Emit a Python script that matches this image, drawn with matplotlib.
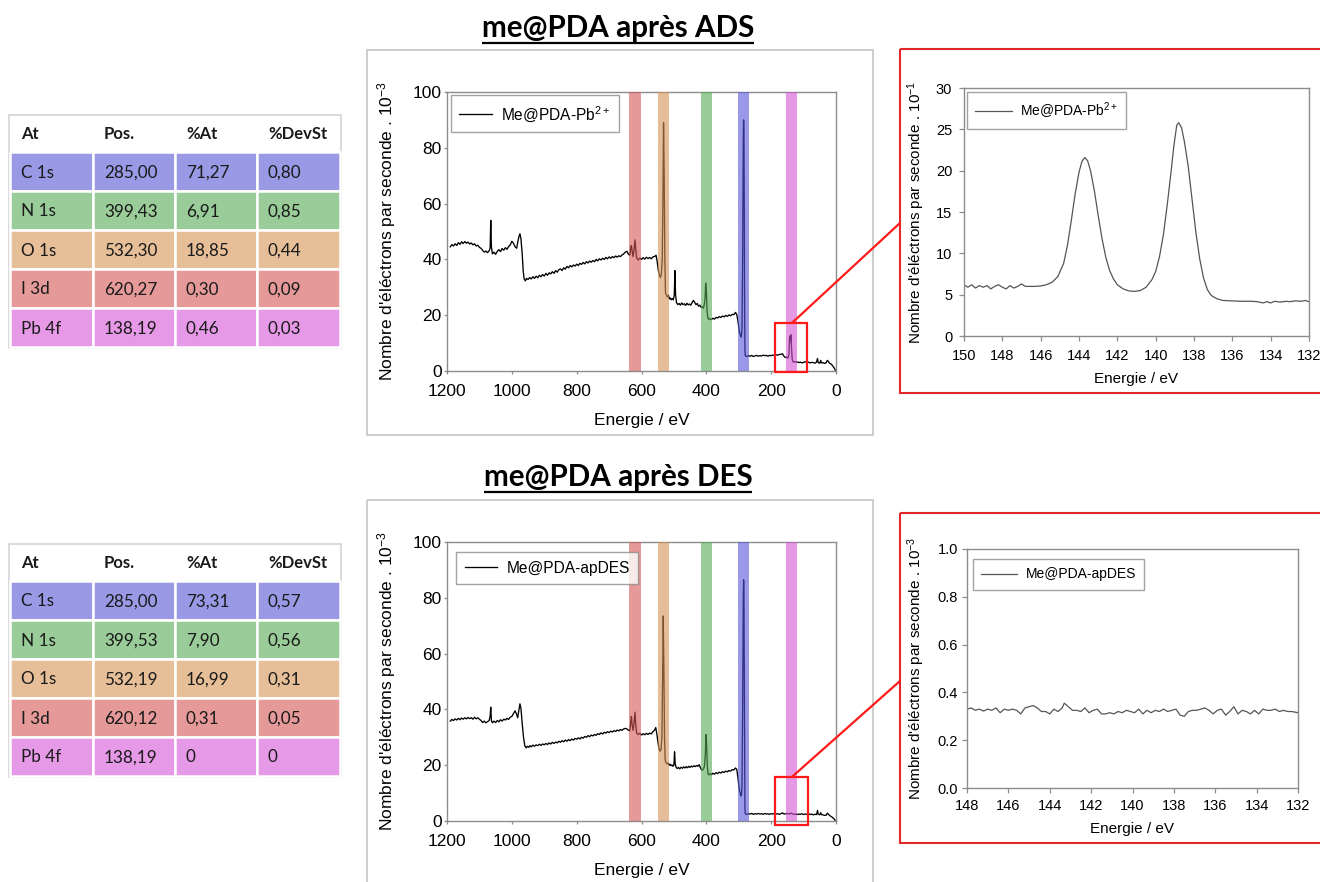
import matplotlib
matplotlib.use("Agg")
import matplotlib.pyplot as plt
from matplotlib.patches import Rectangle, ConnectionPatch
from matplotlib.ticker import FormatStrFormatter, MultipleLocator

plt.rcParams['font.family'] = ['Liberation Sans', 'DejaVu Sans']
plt.rcParams['mathtext.fontset'] = 'custom'
plt.rcParams['mathtext.rm'] = 'Liberation Sans'
plt.rcParams['mathtext.it'] = 'Liberation Sans:italic'
plt.rcParams['mathtext.bf'] = 'Liberation Sans:bold'

W, H = 1320, 882

# ---- tables ----
headers = ["At", "Pos.", "%At", "%DevSt"]
atoms = ["C 1s", "N 1s", "O 1s", "I 3d", "Pb 4f"]
ads_pos = ["285,00", "399,43", "532,30", "620,27", "138,19"]
ads_at = ["71,27", "6,91", "18,85", "0,30", "0,46"]
ads_dev = ["0,80", "0,85", "0,44", "0,09", "0,03"]
des_pos = ["285,00", "399,53", "532,19", "620,12", "138,19"]
des_at = ["73,31", "7,90", "16,99", "0,31", "0"]
des_dev = ["0,57", "0,56", "0,31", "0,05", "0"]
row_colors = ["#9999e6", "#99cc99", "#e6bf99", "#e69999", "#e699e6"]
band_colors = ["#5555da", "#55aa55", "#d59455", "#d55555", "#d555d5"]

# ---- survey spectra (eV, counts/s x 10^-3) ----
ads_energy = [1190, 1185, 1180, 1175, 1170, 1165, 1160, 1155, 1150, 1145, 1140, 1135, 1130, 1125, 1120, 1115,
              1110, 1105, 1100, 1095, 1090, 1085, 1080, 1075, 1070, 1067, 1065, 1063, 1060, 1055, 1050, 1045,
              1040, 1035, 1030, 1025, 1020, 1015, 1010, 1005, 1000, 995, 990, 985, 982, 978, 975, 972, 968,
              965, 962, 958, 955, 950, 945, 940, 935, 930, 925, 920, 915, 910, 905, 900, 895, 890, 885, 880,
              875, 870, 865, 860, 855, 850, 845, 840, 835, 830, 825, 820, 815, 810, 805, 800, 795, 790, 785,
              780, 775, 770, 765, 760, 755, 750, 745, 740, 735, 730, 725, 720, 715, 710, 705, 700, 695, 690,
              685, 680, 675, 670, 665, 660, 655, 650, 645, 640, 636, 633, 631, 629, 626, 623, 620, 618, 615,
              610, 605, 600, 595, 590, 585, 580, 575, 570, 565, 560, 555, 552, 548, 545, 542, 539, 536, 534,
              532, 530, 528, 526, 524, 520, 517, 514, 511, 508, 505, 502, 499, 497, 495, 492, 488, 484, 480,
              476, 472, 468, 464, 460, 456, 452, 448, 444, 440, 436, 432, 428, 424, 420, 416, 412, 409, 406,
              404, 402, 400, 398, 396, 393, 390, 385, 380, 375, 370, 365, 360, 355, 350, 345, 340, 335, 330,
              325, 320, 315, 310, 306, 302, 298, 294, 292, 290, 288, 286, 285, 284, 283, 282, 281, 280, 275,
              270, 265, 260, 255, 250, 245, 240, 235, 230, 225, 220, 215, 210, 205, 200, 195, 190, 185, 180,
              175, 170, 165, 162, 158, 155, 152, 148, 145, 143, 141, 139, 137, 135, 132, 128, 124, 120, 115,
              110, 105, 100, 95, 90, 85, 80, 75, 70, 65, 60, 57, 55, 50, 47, 45, 40, 35, 30, 27, 24, 20, 15,
              10, 5, 2]
ads_counts = [44.5, 45.3, 44.8, 45.6, 45.0, 46.0, 45.4, 46.3, 45.7, 46.4, 45.8, 46.2, 45.5, 45.9, 45.2, 45.6,
              44.8, 45.1, 44.3, 44.0, 43.2, 42.6, 43.0, 42.4, 43.1, 44.0, 54.0, 44.5, 42.0, 42.6, 41.8, 42.9,
              43.5, 42.8, 43.9, 43.3, 44.2, 43.6, 44.6, 45.2, 46.5, 45.8, 44.5, 44.0, 46.0, 48.2, 49.2, 47.5, 42.0,
              36.0, 33.0, 32.3, 33.2, 32.8, 33.5, 33.0, 33.8, 33.2, 34.0, 33.4, 34.3, 33.8, 34.6, 34.0, 35.0, 34.3, 35.2, 34.8,
              35.6, 35.0, 36.0, 35.4, 36.3, 36.6, 36.0, 37.0, 36.5, 37.5, 37.0, 37.8, 37.3, 38.0, 37.6, 38.3, 37.8, 38.6, 38.2,
              38.9, 38.4, 39.2, 38.7, 39.4, 39.0, 39.6, 39.2, 40.0, 39.5, 40.2, 39.8, 40.4, 40.0, 40.7, 40.2, 40.9, 40.4, 41.0,
              40.6, 41.2, 40.8, 41.3, 41.0, 41.6, 42.0, 42.6, 42.9, 41.8, 41.5, 44.5, 45.0, 43.0, 41.0, 43.5, 47.0, 44.0, 40.5,
              39.8, 40.5, 40.0, 40.6, 40.1, 40.8, 40.3, 40.7, 40.2, 40.9, 41.0, 41.5, 39.5, 36.0, 34.5, 33.5, 34.5, 40.0, 60.0,
              89.0, 70.0, 40.0, 28.0, 27.5, 26.5, 27.2, 25.8, 26.2, 25.5, 26.0, 25.5, 27.0, 36.0, 27.5, 24.5, 23.8, 24.2, 23.6,
              24.4, 23.8, 24.1, 23.5, 24.3, 23.7, 24.0, 23.6, 24.5, 25.3, 24.6, 23.8, 24.2, 23.2, 23.6, 22.8, 23.0, 22.5, 24.0,
              26.0, 31.5, 29.0, 22.0, 19.5, 18.5, 18.8, 18.4, 18.9, 18.6, 19.2, 19.0, 19.5, 19.2, 19.7, 19.4, 19.9, 19.6, 20.1,
              19.8, 20.3, 20.2, 21.0, 20.2, 17.5, 14.0, 12.5, 12.2, 15.0, 40.0, 84.0, 90.0, 86.0, 60.0, 25.0, 8.0, 5.5, 5.2,
              5.5, 5.3, 5.6, 5.2, 5.4, 5.6, 5.3, 5.5, 5.4, 5.7, 5.5, 5.6, 5.3, 5.6, 5.5, 5.7, 5.6, 5.8, 5.7,
              5.9, 6.0, 6.2, 5.5, 5.0, 4.8, 5.0, 4.6, 6.0, 12.5, 10.5, 13.0, 8.0, 4.0, 3.2, 3.4, 3.1, 3.3, 3.0,
              3.2, 2.9, 3.1, 3.3, 3.0, 3.2, 2.9, 3.1, 3.0, 2.8, 3.2, 4.5, 3.0, 2.8, 3.8, 2.9, 3.0, 2.7, 3.0, 3.8, 3.5, 2.8, 2.5,
              1.8, 1.0, 0.2]

des_energy = [1190, 1185, 1180, 1175, 1170, 1165, 1160, 1155, 1150, 1145, 1140, 1135, 1130, 1125, 1120, 1115,
              1110, 1105, 1100, 1095, 1090, 1085, 1080, 1075, 1070, 1067, 1065, 1063, 1060, 1055, 1050, 1045,
              1040, 1035, 1030, 1025, 1020, 1015, 1010, 1005, 1000, 995, 990, 986, 982, 978, 975, 972, 968,
              964, 960, 956, 952, 948, 944, 940, 935, 930, 925, 920, 915, 910, 905, 900, 895, 890, 885, 880,
              875, 870, 865, 860, 855, 850, 845, 840, 835, 830, 825, 820, 815, 810, 805, 800, 795, 790, 785,
              780, 775, 770, 765, 760, 755, 750, 745, 740, 735, 730, 725, 720, 715, 710, 705, 700, 695, 690,
              685, 680, 675, 670, 665, 660, 655, 650, 645, 640, 636, 633, 631, 629, 626, 623, 620, 618, 615,
              610, 605, 600, 595, 590, 585, 580, 575, 570, 565, 560, 556, 553, 549, 546, 543, 540, 537, 535,
              533, 531, 529, 527, 525, 521, 518, 515, 512, 509, 506, 503, 500, 498, 496, 493, 490, 486, 482,
              478, 474, 470, 466, 462, 458, 454, 450, 446, 442, 438, 434, 430, 426, 422, 418, 414, 410, 406,
              403, 401, 399, 397, 395, 392, 388, 384, 380, 375, 370, 365, 360, 355, 350, 345, 340, 335, 330,
              325, 320, 315, 310, 306, 302, 298, 294, 292, 290, 288, 286, 285, 284, 283, 282, 281, 280, 275,
              270, 265, 260, 255, 250, 245, 240, 235, 230, 225, 220, 215, 210, 205, 200, 195, 190, 185, 180,
              175, 170, 165, 160, 155, 150, 145, 140, 135, 130, 125, 120, 115, 110, 105, 100, 95, 90, 85, 80,
              75, 70, 65, 60, 57, 55, 50, 47, 45, 40, 35, 30, 27, 24, 20, 15, 10, 5, 2]
des_counts = [35.8, 36.4, 36.0, 36.6, 36.2, 36.8, 36.3, 36.9, 36.5, 37.0, 36.6, 37.1, 36.7, 37.0, 36.5, 37.2,
              36.6, 37.0, 36.5, 36.0, 35.3, 35.8, 35.2, 35.6, 36.0, 37.5, 40.8, 36.0, 35.2, 35.8, 35.3, 36.0,
              35.6, 36.3, 35.8, 36.5, 36.2, 36.8, 36.4, 37.2, 37.5, 38.5, 39.5, 38.5, 37.0, 40.0, 42.0, 40.5, 35.0,
              30.0, 27.0, 26.2, 26.8, 26.4, 27.0, 26.6, 27.2, 26.8, 27.3, 27.0, 27.5, 27.1, 27.6, 27.3, 27.8, 27.4, 28.0, 27.6,
              28.2, 27.8, 28.3, 28.0, 28.6, 28.2, 28.8, 28.4, 29.0, 28.6, 29.2, 28.8, 29.4, 29.0, 29.6, 29.3, 29.8, 29.4, 30.0,
              29.7, 30.3, 30.0, 30.6, 30.2, 30.8, 30.5, 31.0, 30.7, 31.3, 31.0, 31.6, 31.2, 31.8, 31.5, 32.0, 31.7, 32.2, 31.9,
              32.4, 32.1, 32.6, 32.3, 32.8, 32.5, 33.0, 33.2, 33.0, 32.5, 32.3, 36.0, 37.5, 34.5, 32.5, 35.0, 39.0, 35.0, 31.5,
              31.0, 31.5, 30.8, 31.3, 30.9, 31.4, 31.0, 31.5, 31.2, 32.0, 32.5, 33.5, 31.5, 28.0, 26.0, 25.0, 25.5, 30.0, 50.0,
              73.5, 55.0, 30.0, 22.0, 21.0, 20.5, 20.8, 20.0, 20.4, 19.8, 20.1, 19.6, 20.0, 24.8, 20.5, 19.2, 18.8, 19.2, 18.7,
              19.3, 18.9, 19.4, 19.0, 19.5, 19.1, 19.6, 19.2, 19.7, 19.4, 19.8, 19.5, 19.9, 19.6, 20.2, 19.0, 18.2, 18.5, 19.5,
              24.0, 31.0, 27.0, 20.0, 17.0, 16.5, 17.0, 16.6, 17.1, 16.8, 17.3, 17.0, 17.5, 17.2, 17.7, 17.4, 17.9, 17.6, 18.1,
              17.9, 18.4, 18.3, 19.0, 18.5, 15.0, 11.0, 9.3, 9.0, 12.0, 40.0, 80.0, 86.5, 82.0, 55.0, 20.0, 5.0, 2.6, 2.4,
              2.6, 2.5, 2.7, 2.4, 2.6, 2.5, 2.7, 2.5, 2.6, 2.4, 2.7, 2.5, 2.6, 2.4, 2.6, 2.5, 2.7, 2.5, 2.6,
              2.4, 2.6, 2.9, 2.5, 2.6, 2.7, 2.5, 2.8, 2.6, 2.4, 2.5, 2.3, 2.5, 2.4, 2.6, 2.3, 2.5, 2.4, 2.6, 2.3,
              2.5, 2.2, 2.4, 2.3, 3.8, 2.5, 2.2, 3.0, 2.3, 2.2, 2.0, 2.1, 2.8, 2.5, 2.0, 1.6, 1.2, 0.6, 0.1]

# ---- Pb 4f high resolution ----
pb_ads_energy = [150.0, 149.8, 149.6, 149.4, 149.2, 149.0, 148.8, 148.6, 148.4, 148.2, 148.0, 147.8, 147.6,
                 147.4, 147.2, 147.0, 146.8, 146.6, 146.3, 146.0, 145.7, 145.4, 145.1, 144.8, 144.6, 144.4,
                 144.2, 144.0, 143.85, 143.7, 143.55, 143.4, 143.2, 143.0, 142.8, 142.6, 142.4, 142.2, 142.0,
                 141.7, 141.4, 141.1, 140.8, 140.5, 140.2, 140.0, 139.8, 139.6, 139.4, 139.2, 139.05, 138.9,
                 138.8, 138.65, 138.5, 138.3, 138.1, 137.9, 137.7, 137.5, 137.3, 137.1, 136.8, 136.5, 136.0,
                 135.5, 135.0, 134.7, 134.4, 134.2, 134.0, 133.8, 133.5, 133.2, 133.0, 132.7, 132.4, 132.2, 132.0]
pb_ads_counts = [6.2, 5.9, 6.2, 5.8, 6.1, 5.9, 6.1, 5.7, 6.0, 6.2, 5.9, 5.7, 6.1,
                 5.8, 6.0, 6.3, 6.0, 6.0, 6.0, 6.05, 6.2, 6.5, 7.2, 8.8, 11.0, 14.0,
                 17.2, 19.8, 21.1, 21.6, 21.2, 20.0, 17.6, 14.6, 11.8, 9.5, 7.9, 6.9, 6.2,
                 5.7, 5.45, 5.4, 5.5, 5.9, 6.8, 7.8, 9.6, 12.2, 15.8, 19.8, 23.0, 25.5,
                 25.8, 25.2, 23.5, 20.5, 16.5, 12.5, 9.3, 7.0, 5.6, 4.9, 4.5, 4.3, 4.25,
                 4.2, 4.2, 4.15, 4.0, 4.15, 4.0, 4.2, 4.1, 4.2, 4.15, 4.25, 4.2, 4.3, 4.15]

pb_des_energy = [148.0, 147.8, 147.6, 147.4, 147.2, 147.0, 146.8, 146.6, 146.4, 146.2, 146.0, 145.8, 145.6,
                 145.4, 145.2, 145.0, 144.8, 144.6, 144.4, 144.2, 144.0, 143.8, 143.6, 143.4, 143.3, 143.1,
                 142.9, 142.7, 142.5, 142.3, 142.1, 141.9, 141.7, 141.5, 141.3, 141.1, 140.9, 140.7, 140.5,
                 140.3, 140.1, 139.9, 139.7, 139.5, 139.3, 139.1, 138.9, 138.7, 138.5, 138.3, 138.1, 137.9,
                 137.7, 137.5, 137.3, 137.1, 136.9, 136.7, 136.5, 136.3, 136.1, 135.9, 135.7, 135.5, 135.3,
                 135.1, 134.9, 134.7, 134.5, 134.3, 134.1, 133.9, 133.7, 133.5, 133.3, 133.1, 132.9, 132.7,
                 132.5, 132.3, 132.0]
pb_des_counts = [0.33, 0.335, 0.325, 0.33, 0.322, 0.33, 0.325, 0.335, 0.315, 0.33, 0.325, 0.33, 0.325,
                 0.31, 0.335, 0.34, 0.345, 0.335, 0.32, 0.32, 0.31, 0.33, 0.32, 0.335, 0.355, 0.34,
                 0.325, 0.325, 0.32, 0.335, 0.315, 0.325, 0.33, 0.31, 0.31, 0.315, 0.31, 0.32, 0.315,
                 0.325, 0.32, 0.315, 0.33, 0.31, 0.325, 0.315, 0.325, 0.32, 0.33, 0.32, 0.325, 0.33,
                 0.305, 0.30, 0.32, 0.325, 0.325, 0.33, 0.335, 0.325, 0.31, 0.325, 0.33, 0.305, 0.32,
                 0.34, 0.31, 0.325, 0.32, 0.31, 0.325, 0.31, 0.33, 0.325, 0.325, 0.33, 0.32, 0.325,
                 0.32, 0.32, 0.315]


def to_float(s):
    return float(s.replace(",", "."))


fig = plt.figure(figsize=(W / 100, H / 100), dpi=100)


def box(l, t, r, b):
    return [l / W, 1 - b / H, (r - l) / W, (b - t) / H]


def style_axes(ax, rect, fs, tick_len, xpad, ypad, xl_top, yl_right):
    l, t, r, b = rect
    for sp in ax.spines.values():
        sp.set_color("#8c8c8c")
        sp.set_linewidth(1.0)
    ax.tick_params(direction="out", length=tick_len, width=0.9, color="#8c8c8c",
                   labelcolor="black", labelsize=fs)
    ax.tick_params(axis="x", pad=xpad)
    ax.tick_params(axis="y", pad=ypad)
    ax.xaxis.set_label_coords(0.5, -(xl_top - b) / (b - t))
    ax.yaxis.set_label_coords(-(l - yl_right) / (r - l), 0.5)


def survey(rect, energy, counts, label, positions, zoom, leg_anchor):
    ax = fig.add_axes(box(*rect))
    ax.plot(energy, counts, color="black", lw=0.95, zorder=2, label=label)
    for p, c in zip(positions, band_colors):
        v = to_float(p)
        ax.axvspan(v - 17.5, v + 17.5, color=c, alpha=0.6, lw=0, zorder=3)
    ax.set_xlim(1200, 0)
    ax.set_ylim(0, 100)
    ax.xaxis.set_major_locator(MultipleLocator(200))
    ax.yaxis.set_major_locator(MultipleLocator(20))
    ax.set_xlabel("Energie / eV", fontsize=12.5)
    ax.set_ylabel("Nombre d'éléctrons par seconde . 10$^{-3}$", fontsize=12.5)
    style_axes(ax, rect, 12.5, 2.5, 6.5, 1.2, rect[3] + 42, 398)
    leg = ax.legend(loc="upper left", bbox_to_anchor=leg_anchor, borderaxespad=0, fontsize=11.2,
                    fancybox=False, handlelength=2.1, handletextpad=0.6, borderpad=0.55)
    leg.get_frame().set_edgecolor("#8c8c8c")
    leg.get_frame().set_linewidth(1.0)
    x0, x1, y0, y1 = zoom
    ax.add_patch(Rectangle((x0, y0), x1 - x0, y1 - y0, fill=False, ec="#ff1a1a", lw=1.6,
                           clip_on=False, zorder=6))
    return ax


def detail(rect, energy, counts, label, xlim, ylim, ystep, ylabel, fmt, xpad, ypad, xl_top, leg_anchor):
    ax = fig.add_axes(box(*rect))
    ax.plot(energy, counts, color="#555555", lw=0.9, label=label)
    ax.set_xlim(*xlim)
    ax.set_ylim(*ylim)
    ax.xaxis.set_major_locator(MultipleLocator(2))
    ax.yaxis.set_major_locator(MultipleLocator(ystep))
    if fmt:
        ax.yaxis.set_major_formatter(FormatStrFormatter(fmt))
    ax.set_xlabel("Energie / eV", fontsize=11)
    ax.set_ylabel(ylabel, fontsize=11)
    style_axes(ax, rect, 10.5, 3.5, xpad, ypad, xl_top, 927)
    leg = ax.legend(loc="upper left", bbox_to_anchor=leg_anchor, borderaxespad=0, fontsize=10,
                    fancybox=False, handlelength=2.6, handletextpad=0.6, borderpad=0.6)
    leg.get_frame().set_edgecolor("#8c8c8c")
    leg.get_frame().set_linewidth(1.0)
    return ax


ads_rect = (447, 92, 836, 371)
des_rect = (447, 542, 836, 821)
ax_ads = survey(ads_rect, ads_energy, ads_counts, "Me@PDA-Pb$^{2+}$", ads_pos,
                (88, 188, -0.5, 17.2), (0.01, 0.989))
ax_des = survey(des_rect, des_energy, des_counts, "Me@PDA-apDES", des_pos,
                (86, 188, -1.4, 15.8), (0.023, 0.964))

pb_ads_rect = (964, 88, 1309, 336)
pb_des_rect = (967, 549, 1298, 788)
ax_pb_ads = detail(pb_ads_rect, pb_ads_energy, pb_ads_counts, "Me@PDA-Pb$^{2+}$", (150, 132), (0, 30), 5,
                   "Nombre d'éléctrons par seconde . 10$^{-1}$", None, 5.5, 5, 372, (0.009, 0.984))
ax_pb_des = detail(pb_des_rect, pb_des_energy, pb_des_counts, "Me@PDA-apDES", (148, 132), (0, 1.0), 0.2,
                   "Nombre d'éléctrons par seconde . 10$^{-3}$", "%.1f", 4.5, 3, 822, (0.018, 0.958))

# ---- overlay in pixel coordinates: frames, tables, titles, links ----
ov = fig.add_axes([0, 0, 1, 1], zorder=10)
ov.set_xlim(0, W)
ov.set_ylim(H, 0)
ov.axis("off")
ov.patch.set_alpha(0)

ov.add_patch(Rectangle((367, 50), 873 - 367, 435 - 50, fill=False, ec="#c8c8c8", lw=1.3))
ov.add_patch(Rectangle((367, 500), 873 - 367, 400, fill=False, ec="#c8c8c8", lw=1.3))
ov.add_patch(Rectangle((900, 49), 430, 393 - 49, fill=False, ec="#e3262a", lw=1.5))
ov.add_patch(Rectangle((900, 513), 430, 843 - 513, fill=False, ec="#e3262a", lw=1.5))

for ax, pt, target in [(ax_ads, (136, 17.2), (900, 223)), (ax_des, (136, 15.8), (900, 681))]:
    cp = ConnectionPatch(xyA=pt, coordsA=ax.transData, xyB=target, coordsB=ov.transData,
                         color="#ff1a1a", lw=1.6, zorder=20)
    fig.add_artist(cp)

col_x = [10, 93, 175, 257, 340]
header_h, row_h = 36, 39


def draw_table(top, pos, at, dev):
    total = header_h + row_h * len(atoms)
    ov.add_patch(Rectangle((col_x[0] - 1, top - 1), col_x[-1] - col_x[0] + 2, total + 2,
                           fill=False, ec="#d4d4d4", lw=1.2))
    for j, h in enumerate(headers):
        ov.text(col_x[j] + 11, top + header_h / 2, h, family="Lato", fontweight="bold",
                fontsize=12, va="center", color="#1a1a1a")
    for i, cells in enumerate(zip(atoms, pos, at, dev)):
        y = top + header_h + i * row_h
        for j, txt in enumerate(cells):
            ov.add_patch(Rectangle((col_x[j], y), col_x[j + 1] - col_x[j], row_h,
                                   fc=row_colors[i], ec="white", lw=1.8))
            ov.text(col_x[j] + 11, y + row_h / 2 + 1, txt, family="Lato", fontsize=12.3,
                    va="center", color="#1a1a1a")


draw_table(116, ads_pos, ads_at, ads_dev)
draw_table(545, des_pos, des_at, des_dev)

titles = []
for txt, base in [("me@PDA après ADS", 37), ("me@PDA après DES", 486)]:
    t = ov.text(618, base, txt, family="Lato", fontweight="bold", fontsize=21.3,
                ha="center", va="baseline", color="black")
    titles.append((t, base))

fig.canvas.draw()
inv = ov.transData.inverted()
for t, base in titles:
    bb = t.get_window_extent()
    (xa, _), (xb, _) = inv.transform([(bb.x0, bb.y0), (bb.x1, bb.y0)])
    ov.plot([xa, xb], [base + 5.5, base + 5.5], color="black", lw=1.6, solid_capstyle="butt")

fig.savefig("out.png", dpi=100)
